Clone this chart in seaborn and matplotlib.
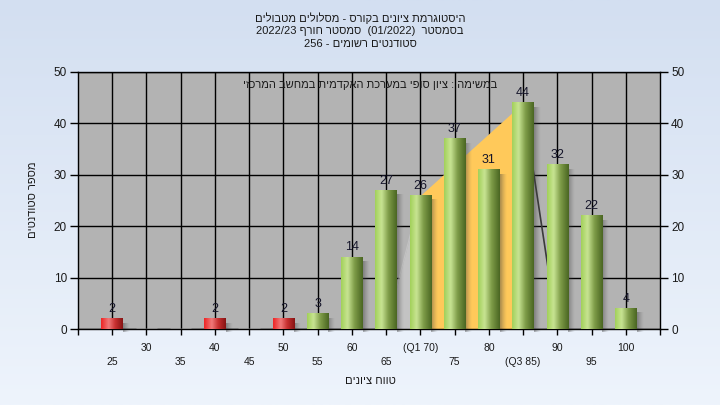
import numpy as np
import pandas as pd
import matplotlib
matplotlib.use("Agg")
import matplotlib.pyplot as plt
from matplotlib.colors import LinearSegmentedColormap, to_rgb
import seaborn as sns

# ---------------- data ----------------
categories = [25, 30, 35, 40, 45, 50, 55, 60, 65, 70, 75, 80, 85, 90, 95, 100]
counts = [2, 0, 0, 2, 0, 2, 3, 14, 27, 26, 37, 31, 44, 32, 22, 4]
tick_labels = ["25", "30", "35", "40", "45", "50", "55", "60", "65",
               "(Q1 70)", "75", "80", "(Q3 85)", "90", "95", "100"]
pass_mark = 55
# quartile band (grade, height)
band_left_x, band_left_y = [65, 70], [0, 26]
band_mid_x, band_mid_y = [70, 85], [26, 44]
band_right_x, band_right_y = [85, 90], [44, 0]

# Hebrew texts (logical order)
title_line1 = "היסטוגרמת ציונים בקורס - מסלולים מטבולים"
note_text = "במשימה : ציון סופי במערכת האקדמית במחשב המרכזי"
xlabel_text = "טווח ציונים"
ylabel_text = "מספר סטודנטים"


def vis(s):
    """visual (left-to-right) order for pure Hebrew strings"""
    return s[::-1]


title2_visual = "2022/23 " + vis("סמסטר חורף") + "  (01/2022)  " + vis("בסמסטר")
title3_visual = "256 - " + vis("רשומים") + " " + vis("סטודנטים")

# ---------------- style ----------------
sns.set_theme(style="white")
FAM = ["Liberation Sans", "DejaVu Sans"]
plt.rcParams["font.family"] = FAM
plt.rcParams["axes.unicode_minus"] = False

fig = plt.figure(figsize=(7.2, 4.05), dpi=100)

# background gradient for figure
bg = fig.add_axes([0, 0, 1, 1], zorder=-10)
top_c = np.array(to_rgb("#d3dff1"))
bot_c = np.array(to_rgb("#eef4fc"))
t = np.linspace(0, 1, 256)[:, None]
grad = top_c[None, None, :] * (1 - t[..., None]) + bot_c[None, None, :] * t[..., None]
bg.imshow(grad, aspect="auto", extent=[0, 1, 0, 1])
bg.set_axis_off()

ax = fig.add_axes([78 / 720, 1 - 329 / 405, (660 - 78) / 720, (329 - 72) / 405])
ax.set_facecolor("#b3b3b3")

df = pd.DataFrame({"grade": [str(c) for c in categories], "count": counts})
bar_cols = ["#e02a2a" if c < pass_mark else "#9cc850" for c in categories]
sns.barplot(data=df, x="grade", y="count", hue="grade", order=df["grade"],
            palette=bar_cols, legend=False, width=0.63, ax=ax,
            saturation=1, zorder=3)

pos = {c: i for i, c in enumerate(categories)}

# quartile band
ax.fill_between([pos[v] for v in band_left_x], band_left_y, color="#c3c3c3", zorder=1.2, lw=0)
ax.plot([pos[v] for v in band_left_x], band_left_y, color="#c3c3c3", lw=0.8, zorder=1.2)
ax.fill_between([pos[v] for v in band_mid_x], band_mid_y, color="#ffc95a", zorder=1.3, lw=0)
ax.plot([pos[v] for v in band_right_x], band_right_y, color="#3a3a3a", lw=1.2, zorder=1.3)

# gradients for bars
green_cm = LinearSegmentedColormap.from_list(
    "g", [(0, "#a2d05a"), (0.3, "#c8e493"), (0.62, "#7e9c48"), (1, "#4a6622")])
red_cm = LinearSegmentedColormap.from_list(
    "r", [(0, "#ee2424"), (0.35, "#f07a7a"), (0.65, "#c83030"), (1, "#861414")])
xs = np.linspace(0, 1, 64)[None, :]
shadow = np.zeros((1, 32, 4))
shadow[..., :3] = 0.25
shadow[0, :, 3] = np.linspace(0.55, 0.0, 32) ** 1.3

for p in ax.patches:
    h = p.get_height()
    if not np.isfinite(h) or h <= 0:
        continue
    x0, w = p.get_x(), p.get_width()
    xc = x0 + w / 2
    cm = red_cm if categories[int(round(xc))] < pass_mark else green_cm
    p.set_alpha(0)
    ax.imshow(cm(xs), extent=[x0, x0 + w, 0, h], aspect="auto",
              zorder=3, interpolation="bicubic")
    ax.imshow(shadow, extent=[x0 + w, x0 + w + 0.2, -0.6, h - 0.9],
              aspect="auto", zorder=2.5, interpolation="bicubic", clip_on=False)

for i, v in enumerate(counts):
    if v > 0:
        ax.text(i, v + 0.7, str(v), ha="center", va="bottom", fontsize=9,
                color="#15152a", zorder=5)

ax.set_xlim(-1, 16)
ax.set_ylim(0, 50)

# grid
ax.set_axisbelow(True)
ax.grid(True, color="black", lw=1.0, zorder=0.5)
for s in ax.spines.values():
    s.set_visible(True)
    s.set_color("black")
    s.set_linewidth(1.0)

# ticks
ax.set_xticks(range(len(categories)))
labs = [lab if i % 2 == 1 else "\n" + lab for i, lab in enumerate(tick_labels)]
ax.set_xticklabels(labs, fontsize=7.5, color="#1a1a1a")
for tl in ax.get_xticklabels():
    tl.set_linespacing(1.55)
ax.set_xticks([-1, 16], minor=True)
ax.tick_params(axis="x", which="both", bottom=True, length=4, width=1,
               color="black", direction="out", pad=6)
ax.set_yticks(range(0, 51, 10))
ax.tick_params(axis="y", left=True, right=True, labelleft=True, labelright=True,
               length=6, width=1, color="black", labelsize=8.5,
               labelcolor="#1a1a1a", direction="out", pad=2)
ax.set_xlabel("")
ax.set_ylabel("")

# texts
fig.text(0.5, 1 - 18 / 405, vis(title_line1), ha="center", va="center",
         fontsize=8, color="#1a1a1a")
fig.text(0.5, 1 - 31 / 405, title2_visual, ha="center", va="center",
         fontsize=8, color="#1a1a1a")
fig.text(0.5, 1 - 44 / 405, title3_visual,
         ha="center", va="center", fontsize=8, color="#1a1a1a")
ax.text(0.502, 0.948, vis(note_text), transform=ax.transAxes, ha="center",
        va="center", fontsize=8, color="#1a1a1a", zorder=6)
fig.text(370 / 720, 1 - 381 / 405, vis(xlabel_text), ha="center", va="center",
         fontsize=8, color="#1a1a1a")
fig.text(33 / 720, 1 - 200 / 405, vis(ylabel_text), ha="center", va="center",
         rotation=90, fontsize=8, color="#1a1a1a")

fig.savefig("out.png", dpi=100)
